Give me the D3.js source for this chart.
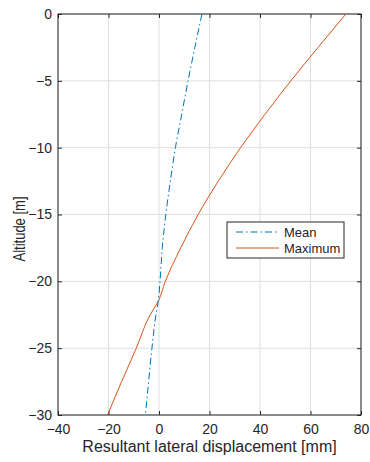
<!DOCTYPE html>
<html>
<head>
<meta charset="utf-8">
<script src="https://cdn.jsdelivr.net/npm/d3@7"></script>
<style>
  body { margin: 0; background: #fff; }
  text { font-family: "Liberation Sans", Arial, sans-serif; fill: #262626; }
</style>
</head>
<body>
<div id="chart"></div>
<script>
// altitude levels [m]
const altitude = [0, -2.5, -5, -7.5, -10, -12.5, -15, -17.5, -20, -21.5, -22.5, -25, -27.5, -30];
// resultant lateral displacement [mm]
const meanDisp = [17, 14.2, 11.5, 9, 6.5, 4.5, 2.7, 1.3, 0.4, -0.3, -1.2, -2.8, -4.1, -5.4];
const maxDisp = [74, 63, 52.2, 42, 32.3, 23.5, 15.5, 8.6, 2.5, -0.3, -3.5, -9, -14.8, -20.4];
const xTicks = [-40, -20, 0, 20, 40, 60, 80];
const yTicks = [0, -5, -10, -15, -20, -25, -30];
const seriesNames = ['Mean', 'Maximum'];

const width = 370, height = 462;
const margin = {top: 14, right: 9, bottom: 47, left: 58};
const w = width - margin.left - margin.right;
const h = height - margin.top - margin.bottom;

const svg = d3.select('#chart').append('svg')
  .attr('width', width)
  .attr('height', height);

const g = svg.append('g')
  .attr('transform', `translate(${margin.left},${margin.top})`);

const x = d3.scaleLinear().domain([-40, 80]).range([0, w]);
const y = d3.scaleLinear().domain([-30, 0]).range([h, 0]);

// grid
g.append('g').selectAll('line').data(xTicks).join('line')
  .attr('x1', d => x(d)).attr('x2', d => x(d))
  .attr('y1', 0).attr('y2', h)
  .attr('stroke', '#dedede').attr('stroke-width', 1);
g.append('g').selectAll('line').data(yTicks).join('line')
  .attr('y1', d => y(d)).attr('y2', d => y(d))
  .attr('x1', 0).attr('x2', w)
  .attr('stroke', '#dedede').attr('stroke-width', 1);

// axes (MATLAB style: ticks inside, box on)
const axisColor = '#262626';
function styleAxis(sel, showText) {
  sel.select('.domain').remove();
  sel.selectAll('.tick line').attr('stroke', axisColor);
  sel.selectAll('.tick text')
    .style('font-size', '14px')
    .attr('fill', '#262626')
    .style('display', showText ? null : 'none');
}

g.append('g')
  .attr('transform', `translate(0,${h})`)
  .call(d3.axisBottom(x).tickValues(xTicks).tickSizeInner(-4).tickPadding(9))
  .call(s => styleAxis(s, true));
g.append('g')
  .call(d3.axisTop(x).tickValues(xTicks).tickSizeInner(-4))
  .call(s => styleAxis(s, false));
g.append('g')
  .call(d3.axisLeft(y).tickValues(yTicks).tickSizeInner(-4).tickPadding(6))
  .call(s => styleAxis(s, true));
g.append('g')
  .attr('transform', `translate(${w},0)`)
  .call(d3.axisRight(y).tickValues(yTicks).tickSizeInner(-4))
  .call(s => styleAxis(s, false));

g.append('rect')
  .attr('width', w).attr('height', h)
  .attr('fill', 'none').attr('stroke', axisColor).attr('stroke-width', 1);

// lines
const line = d3.line()
  .x(d => x(d[0]))
  .y(d => y(d[1]))
  .curve(d3.curveMonotoneY);

const meanPts = altitude.map((a, i) => [meanDisp[i], a]);
const maxPts = altitude.map((a, i) => [maxDisp[i], a]);

g.append('path').datum(maxPts)
  .attr('d', line)
  .attr('fill', 'none').attr('stroke', '#D95319').attr('stroke-width', 1);

g.append('path').datum(meanPts)
  .attr('d', line)
  .attr('fill', 'none').attr('stroke', '#0072BD').attr('stroke-width', 1)
  .attr('stroke-dasharray', '7,3,1.5,3');

// legend
const lg = svg.append('g').attr('transform', 'translate(227,222)');
lg.append('rect')
  .attr('width', 117).attr('height', 36)
  .attr('fill', '#fff').attr('stroke', axisColor).attr('stroke-width', 1);
const legendStyles = [
  {color: '#0072BD', dash: '7,3,1.5,3'},
  {color: '#D95319', dash: null}
];
seriesNames.forEach((name, i) => {
  const cy = 10 + i * 16;
  lg.append('line')
    .attr('x1', 9).attr('x2', 52).attr('y1', cy).attr('y2', cy)
    .attr('stroke', legendStyles[i].color).attr('stroke-width', 1)
    .attr('stroke-dasharray', legendStyles[i].dash);
  lg.append('text')
    .attr('x', 57).attr('y', cy)
    .attr('dy', '0.35em')
    .style('font-size', '13px')
    .text(name);
});

// axis labels
svg.append('text')
  .attr('x', margin.left + w / 2)
  .attr('y', 452)
  .attr('text-anchor', 'middle')
  .style('font-size', '16px')
  .text('Resultant lateral displacement [mm]');

svg.append('text')
  .attr('transform', 'translate(25,229) scale(1.25,1) rotate(-90)')
  .attr('text-anchor', 'middle')
  .style('font-size', '13px')
  .text('Altitude [m]');
</script>
</body>
</html>
